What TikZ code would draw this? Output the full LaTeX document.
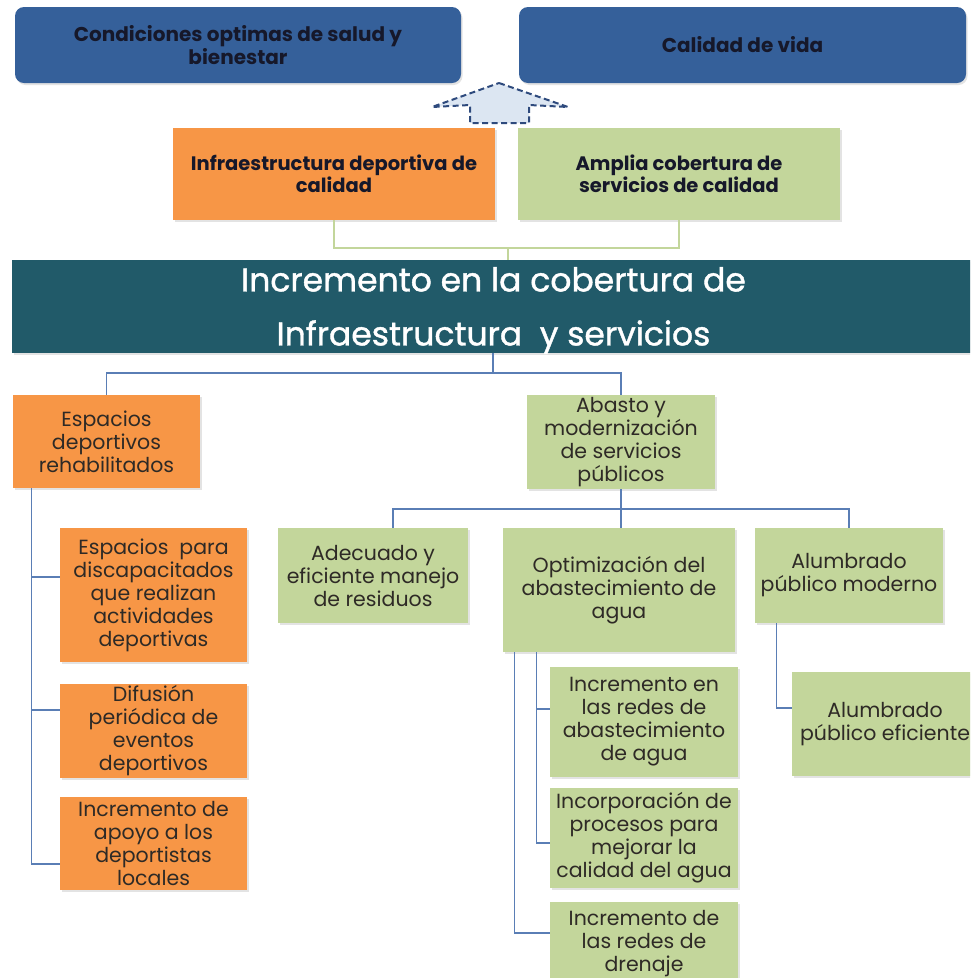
\documentclass[tikz,border=0pt]{standalone}
\usepackage{fontspec}
\setmainfont{Poppins}
\newfontfamily\banfont{Poppins}[FakeBold=1.2]
\usetikzlibrary{shadows}
\definecolor{topblue}{HTML}{35609A}
\definecolor{toptxt}{HTML}{16182A}
\definecolor{orng}{HTML}{F79646}
\definecolor{grn}{HTML}{C3D69B}
\definecolor{teal}{HTML}{215A69}
\definecolor{txt}{HTML}{2E2A26}
\definecolor{lnblue}{HTML}{5A7EB5}
\definecolor{lngreen}{HTML}{C3D69B}
\definecolor{arrfill}{HTML}{DCE6F2}
\definecolor{arrline}{HTML}{2E4A7D}
\tikzset{
  shad/.style={drop shadow={opacity=0.22,shadow xshift=1.5pt,shadow yshift=-2pt}},
  box/.style={rectangle, inner sep=0pt, align=center, text=txt, shad,
    font=\fontsize{20.5}{23}\selectfont},
  ob/.style={box, fill=orng},
  gb/.style={box, fill=grn},
  topbox/.style={rectangle, rounded corners=9pt, fill=topblue, text=toptxt, align=center,
    shad, font=\bfseries\fontsize{20}{20}\selectfont},
  midbox/.style={rectangle, inner sep=0pt, align=center, text=toptxt, shad,
    font=\bfseries\fontsize{19.5}{22}\selectfont},
  conn/.style={draw=lnblue, line width=1.3pt},
  gconn/.style={draw=lngreen, line width=1.5pt},
}
\begin{document}
\begin{tikzpicture}[x=1pt,y=-1pt]
\useasboundingbox (0,0) rectangle (970,978);
\clip (0,0) rectangle (970,978);
\fill[white] (0,0) rectangle (970,978);

% top row
\node[topbox, minimum width=446pt, minimum height=76pt] (top1) at (238,45) {Condiciones optimas de salud y\\bienestar};
\node[topbox, minimum width=447pt, minimum height=76pt] (top2) at (742.5,45) {Calidad de vida};

% dashed block arrow
\draw[fill=arrfill, draw=arrline, line width=2pt, dash pattern=on 6pt off 3.5pt, line join=miter]
  (499,83) -- (568,107) -- (529,105) -- (529,123) -- (470,123) -- (470,105) -- (432,107) -- cycle;

% second row
\node[midbox, fill=orng, minimum width=322pt, minimum height=92pt] (inf) at (334,174) {Infraestructura deportiva de\\calidad};
\node[midbox, fill=grn, minimum width=322pt, minimum height=92pt] (amp) at (679,174) {Amplia cobertura de\\servicios de calidad};

% banner
\node[rectangle, fill=teal, shad, minimum width=963pt, minimum height=93pt] (ban) at (493.5,306.5) {};
\node[text=white, align=center, font=\banfont\fontsize{33}{54}\selectfont] (bant) at ([yshift=-4pt]ban.center)
  {Incremento en la cobertura de\\Infraestructura\ \ y servicios};

\coordinate (j1) at (508,248);
\draw[gconn] (inf.south) |- (j1) -| (amp.south);
\draw[gconn] (j1) -- (ban.north -| j1);

% level 2
\node[ob, minimum width=187pt, minimum height=93pt] (esp) at (106.5,441.5) {Espacios\\deportivos\\rehabilitados};
\node[gb, minimum width=188pt, minimum height=94pt] (aba) at (621,442) {Abasto y\\modernización\\de servicios\\públicos};

\coordinate (j2) at (493,373);
\draw[conn] (ban.south -| j2) -- (j2);
\draw[conn] (esp.north) |- (j2) -| (aba.north);

% left column children
\node[ob, minimum width=187pt, minimum height=134pt] (c1) at (153.5,595) {Espacios\ \ para\\discapacitados\\que realizan\\actividades\\deportivas};
\node[ob, minimum width=187pt, minimum height=94pt] (c2) at (153.5,731) {Difusión\\periódica de\\eventos\\deportivos};
\node[ob, minimum width=187pt, minimum height=93pt] (c3) at (153.5,843.5) {Incremento de\\apoyo a los\\deportistas\\locales};

\coordinate (ls) at ([xshift=19pt]esp.south west);
\draw[conn] (ls) |- ([yshift=18pt]c1.west);
\draw[conn] (ls) |- ([yshift=21pt]c2.west);
\draw[conn] (ls) |- ([yshift=-20.5pt]c3.west);

% abasto children
\node[gb, minimum width=190pt, minimum height=95pt] (ade) at (373,575.5) {Adecuado y\\eficiente manejo\\de residuos};
\node[gb, minimum width=232pt, minimum height=124pt] (opt) at (619,590) {Optimización del\\abastecimiento de\\agua};
\node[gb, minimum width=188pt, minimum height=95pt] (alm) at (849,575.5) {Alumbrado\\público moderno};

\coordinate (j3) at (621,509);
\draw[conn] (aba.south) -- (j3);
\draw[conn] (j3) -- (j3 |- opt.north);
\draw[conn] ([xshift=20pt]ade.north) |- (j3) -| (alm.north);

% optimizacion children
\node[gb, minimum width=188pt, minimum height=110pt] (w1) at (644,722) {Incremento en\\las redes de\\abastecimiento\\de agua};
\node[gb, minimum width=188pt, minimum height=100pt] (w2) at (644,838) {Incorporación de\\procesos para\\mejorar la\\calidad del agua};
\node[gb, minimum width=188pt, minimum height=83pt] (w3) at (644,943.5) {Incremento de\\las redes de\\drenaje};

\coordinate (oa) at ([xshift=12pt]opt.south west);
\coordinate (ob) at ([xshift=34pt]opt.south west);
\draw[conn] (ob) |- ([yshift=13pt]w1.west);
\draw[conn] (ob) |- ([yshift=-5pt]w2.west);
\draw[conn] (oa) |- ([yshift=10.5pt]w3.west);

% alumbrado child
\node[gb, minimum width=186pt, minimum height=104pt] (ale) at (885,724) {Alumbrado\\público eficiente};
\draw[conn] ([xshift=22pt]alm.south west) |- ([yshift=16pt]ale.west);
\end{tikzpicture}
\end{document}
